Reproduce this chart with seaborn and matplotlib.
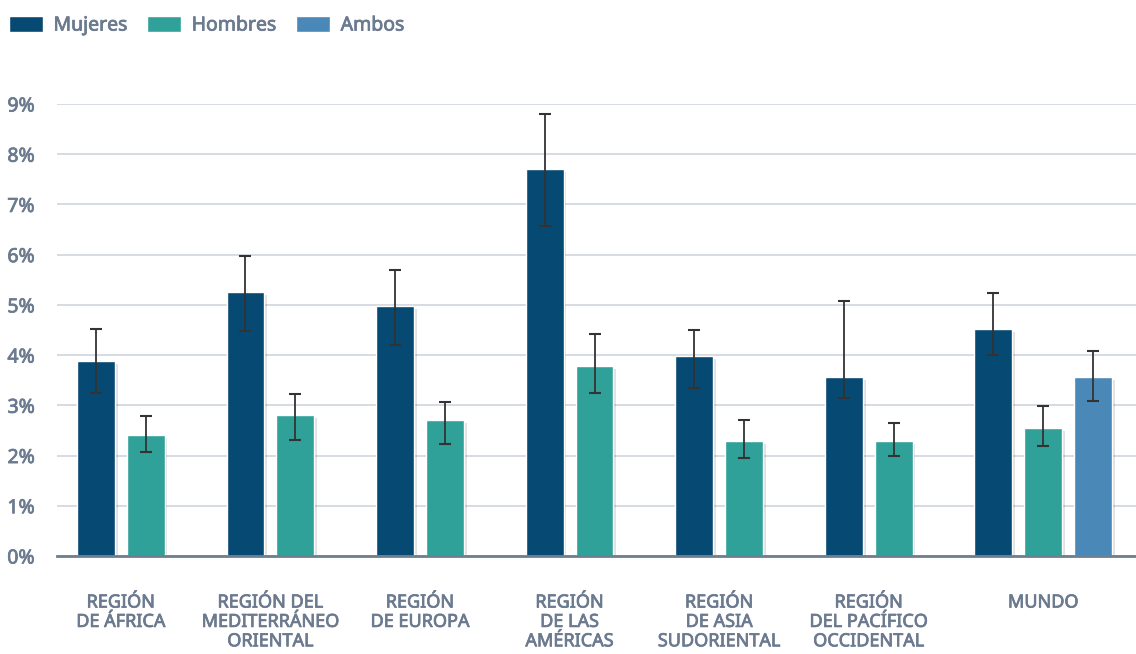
import pandas as pd
import matplotlib.pyplot as plt
import seaborn as sns
from matplotlib import patheffects as pe

regiones = ["REGIÓN\nDE ÁFRICA", "REGIÓN DEL\nMEDITERRÁNEO\nORIENTAL", "REGIÓN\nDE EUROPA",
            "REGIÓN\nDE LAS\nAMÉRICAS", "REGIÓN\nDE ASIA\nSUDORIENTAL", "REGIÓN\nDEL PACÍFICO\nOCCIDENTAL",
            "MUNDO"]
series = ["Mujeres", "Hombres", "Ambos"]

mujeres = [3.88, 5.25, 4.98, 7.70, 3.98, 3.56, 4.51]
mujeres_lo = [3.25, 4.48, 4.20, 6.57, 3.35, 3.15, 4.00]
mujeres_hi = [4.52, 5.98, 5.70, 8.80, 4.50, 5.07, 5.24]

hombres = [2.41, 2.81, 2.71, 3.78, 2.29, 2.29, 2.54]
hombres_lo = [2.07, 2.31, 2.23, 3.25, 1.95, 1.99, 2.19]
hombres_hi = [2.79, 3.22, 3.06, 4.43, 2.70, 2.65, 2.98]

# solo en MUNDO
ambos = [3.56]
ambos_lo = [3.09]
ambos_hi = [4.09]

colores = {"Mujeres": "#064a74", "Hombres": "#2fa198", "Ambos": "#4a88b8"}
gris_txt = "#6b7a8f"
# trazo fino para simular semibold
semi = [pe.withStroke(linewidth=0.55, foreground=gris_txt)]

rows = []
for i in range(len(regiones)):
    rows.append((i * 3 + 0, mujeres[i], mujeres_lo[i], mujeres_hi[i], "Mujeres"))
    rows.append((i * 3 + 1, hombres[i], hombres_lo[i], hombres_hi[i], "Hombres"))
rows.append(((len(regiones) - 1) * 3 + 2, ambos[0], ambos_lo[0], ambos_hi[0], "Ambos"))
df = pd.DataFrame(rows, columns=["slot", "valor", "lo", "hi", "serie"])

sns.set_theme(style="white")
plt.rcParams["font.family"] = ["Noto Sans", "DejaVu Sans"]

fig = plt.figure(figsize=(11.36, 6.54), dpi=100)
ax = fig.add_axes([57 / 1136, 98 / 654, 1 - 57 / 1136, 452 / 654])

ax.grid(axis="y", color="#d3d8e2", linewidth=1.3)
ax.set_axisbelow(True)

sns.barplot(data=df, x="slot", y="valor", hue="serie", hue_order=series, palette=colores,
            native_scale=True, dodge=False, width=0.76, ax=ax, legend=False, saturation=1,
            edgecolor="white", linewidth=1.0, errorbar=None)
for p in ax.patches:
    p.set_path_effects([pe.SimplePatchShadow(offset=(2, -2), shadow_rgbFace="#000000", alpha=0.12),
                        pe.Normal()])

ax.errorbar(df["slot"], df["valor"], yerr=[df["valor"] - df["lo"], df["hi"] - df["valor"]],
            fmt="none", ecolor="#333333", elinewidth=1.3, capsize=4, capthick=1.5, zorder=5)

ax.set_xlim(-0.78, 20.86)
ax.set_ylim(0, 9)
ax.set_yticks(range(10))
ax.set_yticklabels([f"{v}%" for v in range(10)])
centros = [i * 3 + 0.5 for i in range(len(regiones) - 1)] + [(len(regiones) - 1) * 3 + 1]
ax.set_xticks(centros)
ax.set_xticklabels(regiones, linespacing=1.1)
ax.tick_params(axis="x", length=0, pad=27, labelsize=13, labelcolor=gris_txt)
ax.tick_params(axis="y", length=0, pad=16, labelsize=14, labelcolor=gris_txt)
for t in ax.get_xticklabels() + ax.get_yticklabels():
    t.set_path_effects(semi)
ax.set_xlabel("")
ax.set_ylabel("")

for s in ["top", "right", "left"]:
    ax.spines[s].set_visible(False)
ax.spines["bottom"].set_color("#6f7d90")
ax.spines["bottom"].set_linewidth(2)

handles = [plt.Rectangle((0, 0), 1, 1, facecolor=colores[s], edgecolor="white") for s in series]
leg = fig.legend(handles, series, loc="upper left", bbox_to_anchor=(-0.006, 1.0), ncol=3, frameon=False,
                 fontsize=14, handlelength=1.75, handleheight=0.9, handletextpad=0.55,
                 columnspacing=1.0, borderaxespad=0.4)
for t in leg.get_texts():
    t.set_color(gris_txt)
    t.set_path_effects(semi)

fig.savefig("out.png", dpi=100)
